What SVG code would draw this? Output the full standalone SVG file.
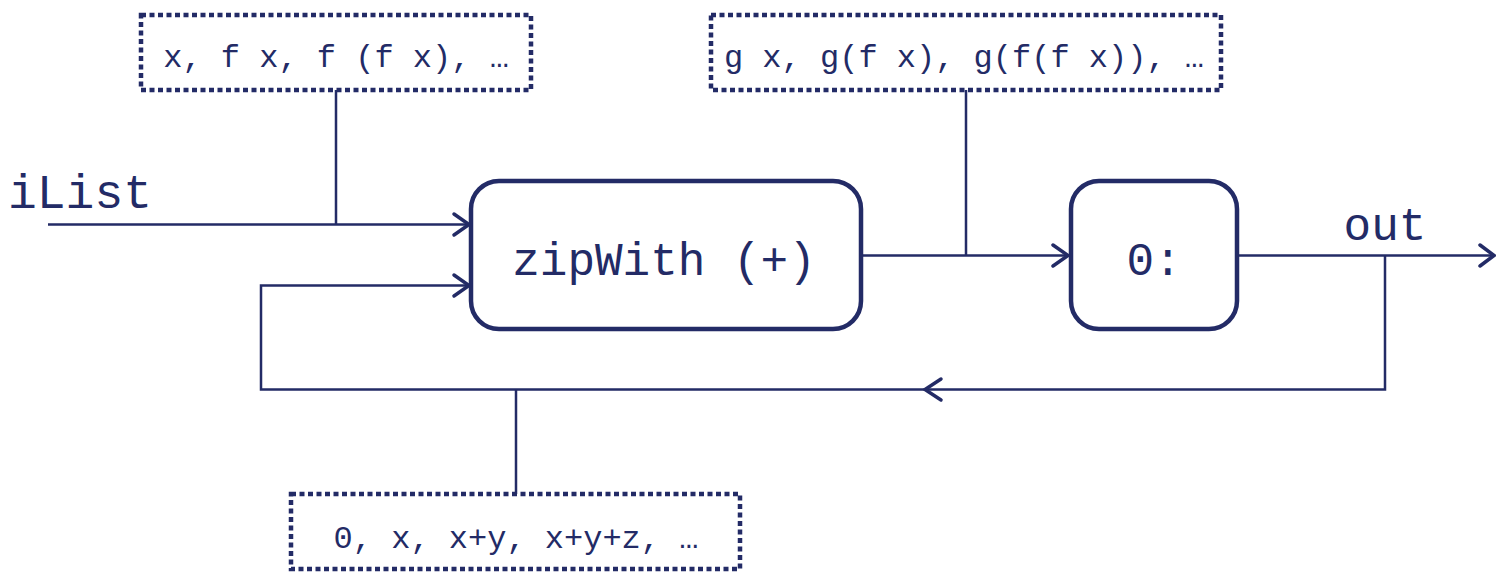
<svg xmlns="http://www.w3.org/2000/svg" width="1496" height="572" viewBox="0 0 1496 572">
<style>
.node{fill:#fff;stroke:#232b66;stroke-width:4.5}
.dot{fill:#fff;stroke:#232b66;stroke-width:4.5;stroke-dasharray:5 3.5}
.ln{fill:none;stroke:#232b66;stroke-width:2.5}
.ah{fill:none;stroke:#232b66;stroke-width:3.5;stroke-linecap:round;stroke-linejoin:miter}
text{font-family:"Liberation Mono","Courier New",monospace;fill:#232b66}
.big{font-size:46px}
.small{font-size:32px}
</style>
<rect width="1496" height="572" fill="#fff"/>
<g id="connectors">
<path class="ln" d="M48 224.5H468M336 90V224.5"/>
<path class="ah" d="M454 214L469 224.5L454 235"/>
<path class="ln" d="M468 285.5H261V389.5H1385V255"/>
<path class="ah" d="M454 275L469 285.5L454 296"/>
<path class="ah" d="M941 379L925 389.5L941 400"/>
<path class="ln" d="M516 389.5V494"/>
<path class="ln" d="M861 255.5H1068M966 90V255.5"/>
<path class="ah" d="M1053 245L1068 255.5L1053 266"/>
<path class="ln" d="M1237 255.5H1493"/>
<path class="ah" d="M1480 245L1494 255.5L1480 266"/>
</g>
<g id="n_top1"><rect class="dot" x="141" y="15" width="390" height="75"/><text class="small" x="336" y="67" text-anchor="middle">x, f x, f (f x), …</text></g>
<g id="n_top2"><rect class="dot" x="711" y="15" width="510" height="75"/><text class="small" x="964" y="67" text-anchor="middle">g x, g(f x), g(f(f x)), …</text></g>
<g id="n_bot"><rect class="dot" x="291" y="494" width="449" height="75"/><text class="small" x="516" y="548" text-anchor="middle">0, x, x+y, x+y+z, …</text></g>
<g id="n_zip"><rect class="node" x="471" y="181" width="390" height="148" rx="28"/><text class="big" x="664" y="275" text-anchor="middle">zipWith (+)</text></g>
<g id="n_cons"><rect class="node" x="1071" y="181" width="166" height="148" rx="28"/><text class="big" x="1154" y="275" text-anchor="middle">0:</text></g>
<g id="labels">
<text class="big" x="8" y="208" style="font-size:48px">iList</text>
<text class="big" x="1385" y="240" text-anchor="middle">out</text>
</g>
</svg>
